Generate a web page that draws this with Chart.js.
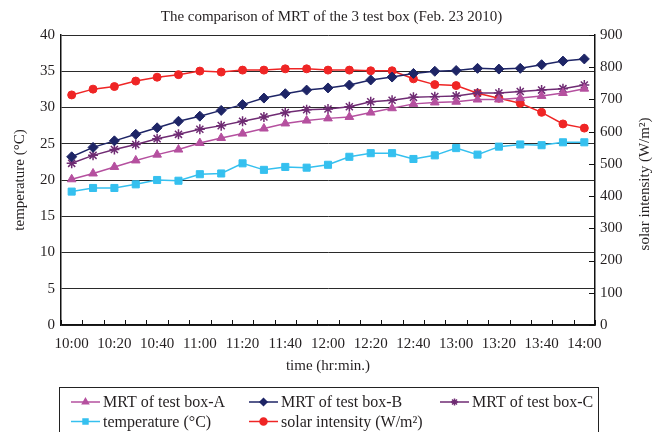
<!DOCTYPE html>
<html>
<head>
<meta charset="utf-8">
<script src="https://cdn.jsdelivr.net/npm/chart.js@4/dist/chart.umd.min.js"></script>
<style>
  html, body { margin: 0; padding: 0; background: #fff; }
  #wrap { width: 663px; height: 432px; }
</style>
</head>
<body>
<div id="wrap"><canvas id="c" width="663" height="432"></canvas></div>
<script>
// Sampling times, every 10 minutes
const times = ['10:00','10:10','10:20','10:30','10:40','10:50','11:00','11:10','11:20','11:30','11:40','11:50',
               '12:00','12:10','12:20','12:30','12:40','12:50','13:00','13:10','13:20','13:30','13:40','13:50','14:00'];

// Mean radiant temperature of each test box (°C)
const mrtBoxA = [20.1,20.9,21.8,22.7,23.5,24.2,25.1,25.8,26.4,27.1,27.8,28.2,28.5,28.7,29.3,29.9,30.5,30.7,30.8,31.1,31.1,31.3,31.6,32.0,32.6];
const mrtBoxB = [23.2,24.5,25.4,26.3,27.2,28.1,28.8,29.6,30.4,31.3,31.9,32.4,32.7,33.1,33.8,34.2,34.7,35.0,35.1,35.4,35.3,35.4,35.9,36.4,36.7];
const mrtBoxC = [22.3,23.4,24.2,24.9,25.7,26.3,27.0,27.5,28.1,28.7,29.3,29.7,29.8,30.1,30.8,31.0,31.4,31.5,31.6,32.0,32.0,32.2,32.4,32.6,33.1];

// Outdoor air temperature (°C)
const airTemp = [18.4,18.9,18.9,19.4,20.0,19.9,20.8,20.9,22.3,21.4,21.8,21.7,22.1,23.2,23.7,23.7,22.9,23.4,24.4,23.5,24.6,24.9,24.8,25.2,25.2];

// Solar intensity (W/m²)
const solar = [714,732,740,757,769,777,788,785,791,791,795,795,791,791,789,789,764,746,743,719,704,688,660,624,611];

// Axis ticks
const tempTicks = [0,5,10,15,20,25,30,35,40];
const solarTicks = [0,100,200,300,400,500,600,700,800,900];

const FONT = '"Liberation Serif", "Times New Roman", serif';
const TXT = '#231f20';

function series(label, data, color, style, axis, radius) {
  return {
    label, data, yAxisID: axis,
    borderColor: color, backgroundColor: color,
    pointStyle: style, pointRadius: radius, pointHoverRadius: radius,
    pointBorderColor: color, pointBackgroundColor: color,
    pointBorderWidth: style === 'star' ? 1.5 : 1,
    borderWidth: 1.5, tension: 0, fill: false
  };
}

const datasets = [
  series('MRT of test box-A', mrtBoxA, '#b5509f', 'triangle', 'y', 5),
  series('MRT of test box-B', mrtBoxB, '#1e2566', 'rectRot', 'y', 5),
  series('MRT of test box-C', mrtBoxC, '#6f2b73', 'star', 'y', 5),
  series('temperature (°C)', airTemp, '#35c0ef', 'rect', 'y', 5),
  series('solar intensity (W/m²)', solar, '#ef2525', 'circle', 'y2', 4)
];

// Inward tick marks on the bottom and right axes, vertical axis titles and the boxed legend
const decorations = {
  id: 'decorations',
  afterDraw(chart) {
    const ctx = chart.ctx;
    const x = chart.scales.x, y2 = chart.scales.y2;
    const area = chart.chartArea;
    ctx.save();
    ctx.strokeStyle = '#111';
    ctx.lineWidth = 1;
    const step = x.getPixelForValue(1) - x.getPixelForValue(0);
    for (let k = 0; k <= times.length; k++) {
      const px = Math.round(x.getPixelForValue(0) + (k - 0.5) * step) + 0.5;
      ctx.beginPath();
      ctx.moveTo(px, area.bottom);
      ctx.lineTo(px, area.bottom - 5);
      ctx.stroke();
    }
    solarTicks.forEach(v => {
      const py = Math.round(y2.getPixelForValue(v)) + 0.5;
      ctx.beginPath();
      ctx.moveTo(area.right, py);
      ctx.lineTo(area.right - 6, py);
      ctx.stroke();
    });

    // vertical axis titles, both reading bottom to top
    ctx.fillStyle = TXT;
    ctx.font = '15px ' + FONT;
    ctx.textAlign = 'center';
    ctx.textBaseline = 'middle';
    const midY = (area.top + area.bottom) / 2;
    [[20.5, midY, 'temperature (°C)'], [645, midY + 4, 'solar intensity (W/m²)']].forEach(([tx, ty, t]) => {
      ctx.save();
      ctx.translate(tx, ty);
      ctx.rotate(-Math.PI / 2);
      ctx.fillText(t, 0, 0);
      ctx.restore();
    });

    // legend
    ctx.lineWidth = 1;
    ctx.strokeStyle = '#222';
    ctx.strokeRect(59.5, 387.5, 539, 60);
    const slots = [[71, 402], [249, 402], [440, 402], [71, 421.5], [249, 421.5]];
    ctx.font = '16px ' + FONT;
    ctx.textBaseline = 'middle';
    ctx.textAlign = 'left';
    chart.data.datasets.forEach((ds, i) => {
      const [lx, ly] = slots[i];
      ctx.strokeStyle = ds.borderColor;
      ctx.lineWidth = 1.5;
      ctx.beginPath();
      ctx.moveTo(lx, ly);
      ctx.lineTo(lx + 29, ly);
      ctx.stroke();
      ctx.fillStyle = ds.pointBackgroundColor;
      Chart.helpers.drawPoint(ctx, {
        pointStyle: ds.pointStyle, radius: 3.5, rotation: 0,
        borderWidth: ds.pointBorderWidth
      }, lx + 14.5, ly);
      ctx.fillStyle = TXT;
      ctx.fillText(ds.label, lx + 32, ly + 1);
    });
    ctx.restore();
  }
};

new Chart(document.getElementById('c'), {
  type: 'line',
  data: { labels: times, datasets },
  plugins: [decorations],
  options: {
    responsive: false,
    animation: false,
    layout: { padding: { left: 0, right: 0, top: 0, bottom: 57 } },
    plugins: {
      legend: { display: false },
      tooltip: { enabled: false },
      title: {
        display: true,
        text: 'The comparison of MRT of the 3 test box (Feb. 23 2010)',
        color: TXT,
        font: { family: FONT, size: 15, weight: 'normal' },
        padding: { top: 8, bottom: 9 }
      }
    },
    scales: {
      x: {
        type: 'category',
        offset: true,
        grid: { display: false, drawTicks: false },
        border: { display: true, color: '#111', width: 1.5 },
        ticks: {
          autoSkip: false, maxRotation: 0, minRotation: 0,
          color: TXT, padding: 10,
          font: { family: FONT, size: 15 },
          callback: (v, i) => (i % 2 === 0 ? times[i] : '')
        },
        title: {
          display: true, text: 'time (hr:min.)', color: TXT,
          font: { family: FONT, size: 15 }, padding: { top: 4, bottom: 0 }
        },
        afterFit: s => { s.height = 50; }
      },
      y: {
        position: 'left',
        min: 0, max: 40,
        afterBuildTicks: s => { s.ticks = tempTicks.map(v => ({ value: v })); },
        grid: { color: '#2a2a2a', lineWidth: 1, drawTicks: false },
        border: { display: true, color: '#111', width: 1.5 },
        ticks: { color: TXT, padding: 6, font: { family: FONT, size: 15 } },
        title: { display: false },
        afterFit: s => { s.width = 61; }
      },
      y2: {
        position: 'right',
        min: 0, max: 900,
        afterBuildTicks: s => { s.ticks = solarTicks.map(v => ({ value: v })); },
        grid: { display: false, drawOnChartArea: false, drawTicks: false },
        border: { display: true, color: '#111', width: 1.5 },
        ticks: { color: TXT, padding: 5, font: { family: FONT, size: 15 } },
        title: { display: false },
        afterFit: s => { s.width = 68; }
      }
    }
  }
});
</script>
</body>
</html>
